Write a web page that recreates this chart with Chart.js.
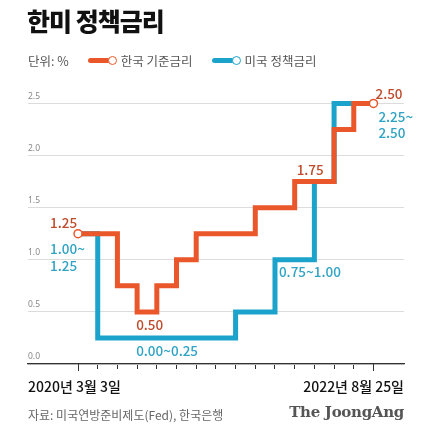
<!DOCTYPE html>
<html>
<head>
<meta charset="utf-8">
<script src="https://cdn.jsdelivr.net/npm/chart.js@4"></script>
<style>
  body { margin: 0; background: #fff; font-family: "Noto Sans CJK KR", "Noto Sans", sans-serif; }
  #wrap { position: relative; width: 430px; height: 433px; overflow: hidden; }
  #wrap canvas { position: absolute; left: 0; top: 0; }
  .titulo { position: absolute; left: 27px; top: 2px; font-size: 25px; font-weight: 900; color: #111; letter-spacing: -1px; }
  .legenda { position: absolute; left: 28px; top: 51px; font-size: 12.5px; color: #555; display: flex; align-items: center; }
  .legenda .item { display: flex; align-items: center; margin-left: 19px; }
  .legenda .linha { width: 22px; height: 5px; border-radius: 3px; }
  .legenda .bola { width: 7px; height: 7px; border-radius: 50%; background: #fff; border: 1.5px solid; margin-left: -2px; margin-right: 4px; }
  .fonte { position: absolute; left: 28px; top: 406px; font-size: 12px; color: #666; }
  .marca { position: absolute; right: 26px; top: 403px; font-family: "DejaVu Serif", "Liberation Serif", serif; font-weight: 700; font-size: 15px; color: #555; letter-spacing: -0.3px; }
</style>
</head>
<body>
<div id="wrap">
  <canvas id="GraficoJuros" width="430" height="433"></canvas>
  <div class="titulo">한미 정책금리</div>
  <div class="legenda">
    <span>단위: %</span>
    <span class="item"><span class="linha" style="background:#e9572b"></span><span class="bola" style="border-color:#e9572b"></span>한국 기준금리</span>
    <span class="item"><span class="linha" style="background:#1ba3cb"></span><span class="bola" style="border-color:#1ba3cb"></span>미국 정책금리</span>
  </div>
  <div class="fonte">자료: 미국연방준비제도(Fed), 한국은행</div>
  <div class="marca">The JoongAng</div>
</div>
<script>
/* Dados: índice do passo no eixo (espaçamento esquemático) e taxa em % */
var passosKorea = [0, 2, 3, 4, 5, 6, 9, 11, 13, 14, 15];
var taxasKorea = [1.25, 0.75, 0.50, 0.75, 1.00, 1.25, 1.50, 1.75, 2.25, 2.50, 2.50];

var passosEUA = [0, 1, 8, 10, 12, 13, 15];
var taxasEUA = [1.25, 0.25, 0.50, 1.00, 1.75, 2.50, 2.50];

var rotulosY = [0, 0.5, 1.0, 1.5, 2.0, 2.5];
var dataInicio = "2020년 3월 3일";
var dataFim = "2022년 8월 25일";

var corKorea = "#e9572b";
var corKoreaTexto = "#bf4a2a";
var corEUA = "#1ba3cb";
var corEUATexto = "#2ea3c4";

function MontarPontos(passos, taxas) {
    var pontos = [];
    for (var i = 0; i < passos.length; i++) {
        pontos.push({ x: passos[i], y: taxas[i] });
    }
    return pontos;
}

/* Plugin para os textos de anotação e as datas do eixo */
var textosPlugin = {
    id: 'textos',
    afterDraw: function (chart) {
        var ctx = chart.ctx;
        var x = chart.scales.x;
        var y = chart.scales.y;
        var area = chart.chartArea;

        function Escrever(texto, px, py, cor, alinhar, fonte) {
            ctx.save();
            ctx.fillStyle = cor;
            ctx.font = fonte || '500 13.5px "Noto Sans CJK KR", "Noto Sans", sans-serif';
            ctx.textAlign = alinhar || 'left';
            ctx.textBaseline = 'middle';
            ctx.fillText(texto, px, py);
            ctx.restore();
        }

        Escrever("1.25", x.getPixelForValue(0) - 28, y.getPixelForValue(1.25) - 11, corKoreaTexto);
        Escrever("1.00~", x.getPixelForValue(0) - 28, y.getPixelForValue(1.25) + 15, corEUATexto);
        Escrever("1.25", x.getPixelForValue(0) - 28, y.getPixelForValue(1.25) + 32, corEUATexto);
        Escrever("0.50", x.getPixelForValue(2.95), y.getPixelForValue(0.5) + 13, corKoreaTexto);
        Escrever("0.00~0.25", x.getPixelForValue(2.95), y.getPixelForValue(0.25) + 13, corEUATexto);
        Escrever("0.75~1.00", x.getPixelForValue(10.2), y.getPixelForValue(1.0) + 12, corEUATexto);
        Escrever("1.75", x.getPixelForValue(11.1), y.getPixelForValue(1.75) - 12, corKoreaTexto);
        Escrever("2.50", x.getPixelForValue(15.1), y.getPixelForValue(2.5) - 10, corKoreaTexto);
        Escrever("2.25~", x.getPixelForValue(15.25), y.getPixelForValue(2.5) + 13, corEUATexto);
        Escrever("2.50", x.getPixelForValue(15.25), y.getPixelForValue(2.5) + 29, corEUATexto);

        var fonteData = '500 14px "Noto Sans CJK KR", "Noto Sans", sans-serif';
        Escrever(dataInicio, area.left, area.bottom + 23, "#111", 'left', fonteData);
        Escrever(dataFim, area.right, area.bottom + 23, "#111", 'right', fonteData);

        /* ticks mais longos no início e no fim */
        ctx.save();
        ctx.strokeStyle = "#333";
        ctx.lineWidth = 1;
        [0, 15].forEach(function (v) {
            var px = Math.round(x.getPixelForValue(v)) + 0.5;
            ctx.beginPath();
            ctx.moveTo(px, area.bottom);
            ctx.lineTo(px, area.bottom + 7);
            ctx.stroke();
        });
        ctx.restore();
    }
};

var ctx = document.getElementById('GraficoJuros').getContext('2d');

var grafico = new Chart(ctx, {
    type: 'line',
    data: {
        datasets: [{
            label: "한국 기준금리",
            data: MontarPontos(passosKorea, taxasKorea),
            borderColor: corKorea,
            borderWidth: 5,
            stepped: 'before',
            fill: false,
            pointRadius: function (c) {
                return (c.dataIndex === 0 || c.dataIndex === passosKorea.length - 1) ? 4 : 0;
            },
            pointBackgroundColor: "#fff",
            pointBorderColor: corKorea,
            pointBorderWidth: 1.5,
            order: 1
        }, {
            label: "미국 정책금리",
            data: MontarPontos(passosEUA, taxasEUA),
            borderColor: corEUA,
            borderWidth: 5,
            stepped: 'before',
            fill: false,
            pointRadius: 0,
            order: 2
        }]
    },
    options: {
        responsive: false,
        animation: false,
        layout: {
            padding: { left: 28, right: 26, top: 93, bottom: 64 }
        },
        plugins: {
            legend: { display: false },
            tooltip: { enabled: false },
            title: { display: false }
        },
        scales: {
            x: {
                type: 'linear',
                min: -2.54,
                max: 16.55,
                afterBuildTicks: function (scale) {
                    var t = [];
                    for (var i = 0; i <= 15; i++) t.push({ value: i });
                    scale.ticks = t;
                },
                ticks: { display: false },
                grid: {
                    drawOnChartArea: false,
                    drawTicks: true,
                    tickLength: 5,
                    color: "#333"
                },
                border: { display: true, color: "#333", width: 1.2 }
            },
            y: {
                min: 0,
                max: 2.6,
                afterBuildTicks: function (scale) {
                    scale.ticks = rotulosY.map(function (v) { return { value: v }; });
                },
                ticks: {
                    mirror: true,
                    padding: 0,
                    labelOffset: -7,
                    color: "#888",
                    font: { size: 8.5, family: '"Noto Sans", sans-serif' },
                    callback: function (v) { return v.toFixed(1); }
                },
                grid: {
                    color: "#dcdcdc",
                    lineWidth: 1,
                    drawTicks: false
                },
                border: { display: false }
            }
        }
    },
    plugins: [textosPlugin]
});
</script>
</body>
</html>
